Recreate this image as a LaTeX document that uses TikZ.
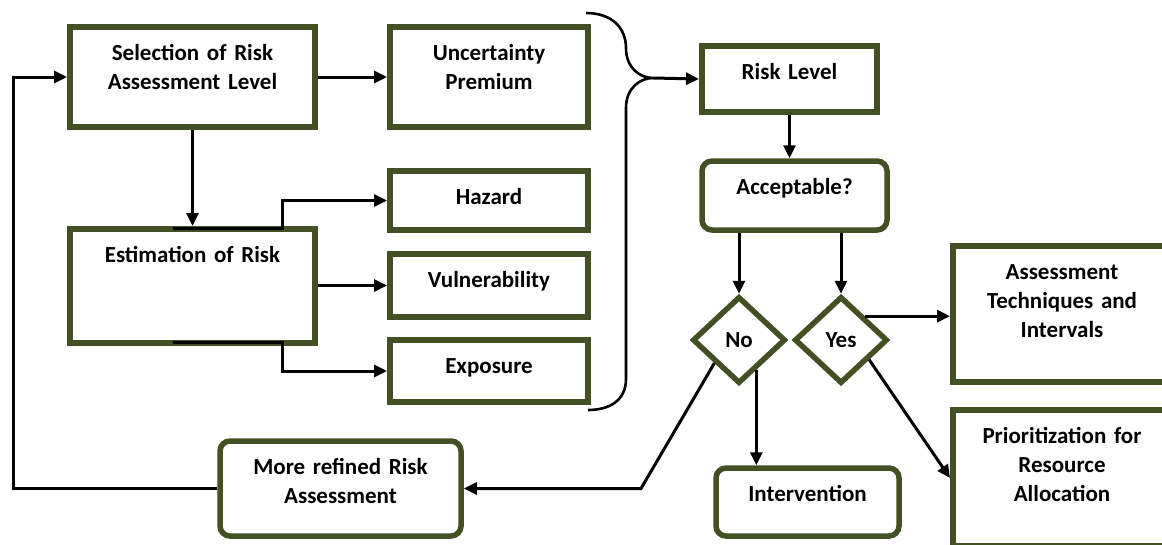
\documentclass[tikz,border=0pt]{standalone}
\usepackage{fontspec}
\setmainfont{Carlito}
\usepackage{tikz}
\usetikzlibrary{shapes.geometric,arrows.meta}
\definecolor{boxgreen}{RGB}{67,80,35}
\tikzset{Box/.style 2 args={rectangle, draw=boxgreen, line width=6pt, fill=white,
  minimum width=#1, text width=#1-16pt, align=center, inner xsep=8pt, inner ysep=5pt,
  text height=28pt, text depth=#2-38pt}}
\tikzstyle{Round}=[rounded corners=10pt, line width=5.5pt]
\tikzstyle{Choice}=[diamond, draw=boxgreen, line width=5.5pt, fill=white, minimum width=93pt, minimum height=87pt, inner sep=0pt]
\tikzstyle{Link}=[line width=3pt, -{Triangle[length=13pt,width=12pt]}]
\tikzstyle{Brace}=[line width=2.6pt]

\begin{document}
\begin{tikzpicture}[x=1pt, y=-1pt, font=\fontsize{23pt}{29pt}\selectfont\bfseries]
    \useasboundingbox (0,0) rectangle (1162,544);
    \path
    (192.5,77) node[Box={245pt}{100pt}] (sel) {Selection of Risk\\Assessment Level}
    (489,77) node[Box={198pt}{100pt}] (unc) {Uncertainty\\Premium}
    (192.5,286) node[Box={245pt}{114pt}] (est) {Estimation of Risk}
    (489,200.5) node[Box={198pt}{59pt}] (haz) {Hazard}
    (489,285.5) node[Box={198pt}{63pt}] (vul) {Vulnerability}
    (489,371) node[Box={198pt}{62pt}] (exp) {Exposure}
    (789.5,79) node[Box={175pt}{66pt}] (risk) {Risk Level}
    (794.5,195.5) node[Box={185pt}{69pt}, Round] (acc) {Acceptable?}
    (739,340) node[Choice] (no) {No}
    (841,340) node[Choice] (yes) {Yes}
    (340.5,488.5) node[Box={241pt}{95pt}, Round] (ref) {More refined Risk\\Assessment}
    (807.5,502) node[Box={183pt}{68pt}, Round] (int) {Intervention}
    (1062,314) node[Box={218pt}{136pt}] (ass) {Assessment\\Techniques and\\Intervals}
    (1062,478) node[Box={218pt}{136pt}] (pri) {Prioritization for\\Resource\\Allocation};

    \coordinate (loop) at (13,77);
    \coordinate (tip) at (653,78);
    \coordinate (bend) at (641,488.5);

    \draw[Link] (ref.west) -| (loop) -- (sel.west);
    \draw[Link] (sel.east) -- (unc.west);
    \draw[Link] (sel.south) -- (est.north);
    \draw[Link] ([xshift=-20pt,yshift=-2pt]est.north) -- ++(110,0) |- (haz.west);
    \draw[Link] (est.east |- vul.west) -- (vul.west);
    \draw[Link] ([xshift=-20pt,yshift=4pt]est.south) -- ++(110,0) |- (exp.west);
    \draw[Brace] (586,13) .. controls (612,13) and (626,28) .. (626,48)
    .. controls (626,68) and (640,78) .. (tip)
    .. controls (640,78) and (626,88) .. (626,108) -- (626,379)
    .. controls (626,400) and (610,410) .. (588,410);
    \draw[Link] (tip) -- (risk.west);
    \draw[Link] (risk.south) -- (risk.south |- acc.north);
    \draw[Link] (no.north |- acc.south) -- (no.north);
    \draw[Link] (yes.north |- acc.south) -- (yes.north);
    \draw[Link] (no.south west) -- (bend) -- (ref.east);
    \draw[Link] (no.-60) -- (no.-60 |- int.north);
    \draw[Link] (yes.45) -- (yes.45 -| ass.west);
    \draw[Link] (yes.-35) -- (pri.west);
\end{tikzpicture}
\end{document}
